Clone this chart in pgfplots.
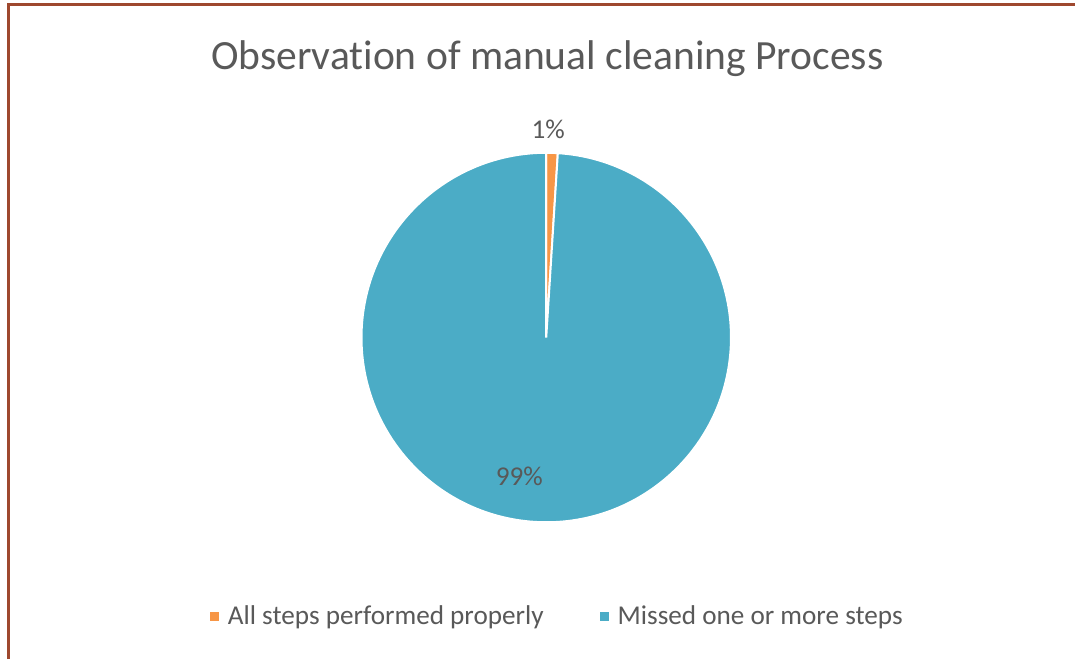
\documentclass[border=0pt]{standalone}
\usepackage{pgfplots}
\usepackage{pgfplotstable}
\pgfplotsset{compat=1.18}
\usepackage{fontspec}
\setmainfont{Carlito}[Ligatures=NoCommon]
\definecolor{pieorange}{HTML}{F79646}
\definecolor{pieblue}{HTML}{4BACC6}
\definecolor{txtgray}{HTML}{595959}
\definecolor{framebrown}{RGB}{158,72,46}
\pgfplotsset{sqlegend/.style={legend image code/.code={\fill[##1] (0pt,-2.1pt) rectangle (4.2pt,2.1pt);}}}
\pgfplotstableread{
label value
{All steps performed properly} 1
{Missed one or more steps} 99
}\piedata
\begin{document}
\begin{tikzpicture}
\pgfplotstablegetelem{0}{value}\of\piedata \let\va\pgfplotsretval
\pgfplotstablegetelem{1}{value}\of\piedata \let\vb\pgfplotsretval
\pgfmathsetmacro\total{\va+\vb}
\pgfmathsetmacro\aA{90}
\pgfmathsetmacro\aB{90-360*\va/\total}
\pgfmathsetmacro\aC{90-360}
\pgfmathtruncatemacro\pctA{round(100*\va/\total)}
\pgfmathtruncatemacro\pctB{round(100*\vb/\total)}
\begin{axis}[
  x=0.5pt, y=0.5pt,
  xmin=0, xmax=1076, ymin=0, ymax=660,
  hide axis, clip=false,
  legend columns=2,
  legend style={at={(axis cs:559,43)}, anchor=center, draw=none, fill=none,
    font=\fontsize{13.6}{16}\selectfont, text=txtgray,
    /tikz/every odd column/.append style={column sep=2.5pt},
    /tikz/every even column/.append style={column sep=26pt},
    legend cell align=left},
]
\fill[white] (axis cs:0,0) rectangle (axis cs:1076,660);
\draw[framebrown, line width=1.5pt] (axis cs:9,0) -- (axis cs:9,655) -- (axis cs:1076,655);
\node[text=txtgray, font=\fontsize{20.8}{24}\selectfont] at (axis cs:548,601) {Observation of manual cleaning Process};
\fill[pieorange, draw=white, line width=1pt] (axis cs:547,322) -- ++(\aA:92.5pt) arc[start angle=\aA, end angle=\aB, radius=92.5pt] -- cycle;
\fill[pieblue, draw=white, line width=1pt] (axis cs:547,322) -- ++(\aB:92.5pt) arc[start angle=\aB, end angle=\aC, radius=92.5pt] -- cycle;
\node[text=txtgray, font=\fontsize{13.6}{16}\selectfont] at (axis cs:549,530) {\pctA\%};
\node[text=txtgray, font=\fontsize{13.6}{16}\selectfont] at (axis cs:520,183) {\pctB\%};
\addlegendimage{sqlegend, pieorange}
\addlegendentry{All steps performed properly}
\addlegendimage{sqlegend, pieblue}
\addlegendentry{Missed one or more steps}
\end{axis}
\end{tikzpicture}
\end{document}
